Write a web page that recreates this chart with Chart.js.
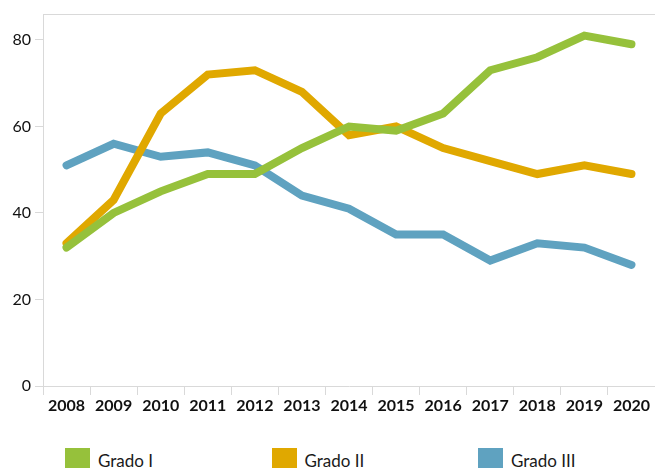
<!DOCTYPE html>
<html>
<head>
<meta charset="utf-8">
<script src="https://cdn.jsdelivr.net/npm/chart.js@4.4.1/dist/chart.umd.min.js"></script>
<style>
    html, body { margin: 0; padding: 0; background: #fff; overflow: hidden; }
    #wrap { position: relative; width: 655px; height: 468px; }
    #chart { position: absolute; left: 0; top: 0; }
    .legend-item {
        position: absolute;
        top: 448px;
        display: flex;
        align-items: flex-start;
        font-family: Lato, 'Open Sans', sans-serif;
        font-size: 17px;
        color: #1a1a1a;
    }
    .legend-item .swatch { width: 25px; height: 22px; margin-right: 8px; }
    .legend-item span { line-height: 24px; margin-top: 1px; }
</style>
</head>
<body>
<div id="wrap">
    <canvas id="chart" width="655" height="430"></canvas>
    <div id="legend"></div>
</div>
<script>
const years = ['2008', '2009', '2010', '2011', '2012', '2013', '2014', '2015', '2016', '2017', '2018', '2019', '2020'];
const gradoI = [32, 40, 45, 49, 49, 55, 60, 59, 63, 73, 76, 81, 79];
const gradoII = [33, 43, 63, 72, 73, 68, 58, 60, 55, 52, 49, 51, 49];
const gradoIII = [51, 56, 53, 54, 51, 44, 41, 35, 35, 29, 33, 32, 28];
const yTicks = [0, 20, 40, 60, 80];

const seriesNames = ['Grado I', 'Grado II', 'Grado III'];
const seriesColors = ['#96c13b', '#e0a800', '#5fa2c0'];
const axisGray = '#d9d9d9';

const topBorder = {
    id: 'topBorder',
    afterDraw(chart) {
        const { ctx, chartArea } = chart;
        ctx.save();
        ctx.strokeStyle = axisGray;
        ctx.lineWidth = 1;
        ctx.beginPath();
        ctx.moveTo(chartArea.left, chartArea.top + 0.5);
        ctx.lineTo(chart.width, chartArea.top + 0.5);
        ctx.stroke();
        ctx.restore();
    }
};

function makeDataset(i, values) {
    return {
        label: seriesNames[i],
        data: values,
        borderColor: seriesColors[i],
        backgroundColor: seriesColors[i],
        borderWidth: 8,
        borderCapStyle: 'round',
        pointRadius: 0,
        tension: 0,
        fill: false
    };
}

new Chart(document.getElementById('chart'), {
    type: 'line',
    data: {
        labels: years,
        datasets: [
            makeDataset(0, gradoI),
            makeDataset(1, gradoII),
            makeDataset(2, gradoIII)
        ]
    },
    options: {
        responsive: false,
        animation: false,
        layout: { padding: { top: 14, right: 0, left: 0, bottom: 0 } },
        plugins: {
            legend: { display: false },
            tooltip: { enabled: false }
        },
        scales: {
            x: {
                offset: true,
                afterFit: scale => { scale.height = 44; },
                border: { color: axisGray },
                grid: {
                    offset: true,
                    drawOnChartArea: false,
                    color: axisGray,
                    tickLength: 9
                },
                ticks: {
                    color: '#111',
                    padding: 1,
                    maxRotation: 0,
                    autoSkip: false,
                    font: { family: 'Lato', size: 16, weight: 'bold' }
                }
            },
            y: {
                min: 0,
                max: 86,
                afterFit: scale => { scale.width = 43; },
                afterBuildTicks: scale => {
                    scale.ticks = yTicks.map(v => ({ value: v }));
                },
                border: { color: axisGray },
                grid: {
                    drawOnChartArea: false,
                    color: axisGray,
                    tickLength: 8
                },
                ticks: {
                    color: '#111',
                    padding: 4,
                    font: { family: 'Lato', size: 16 }
                }
            }
        }
    },
    plugins: [topBorder]
});

const legend = document.getElementById('legend');
seriesNames.forEach((name, i) => {
    const item = document.createElement('div');
    item.className = 'legend-item';
    item.style.left = (65 + i * 206.5) + 'px';
    const sw = document.createElement('div');
    sw.className = 'swatch';
    sw.style.background = seriesColors[i];
    const label = document.createElement('span');
    label.textContent = name;
    item.appendChild(sw);
    item.appendChild(label);
    legend.appendChild(item);
});
</script>
</body>
</html>
